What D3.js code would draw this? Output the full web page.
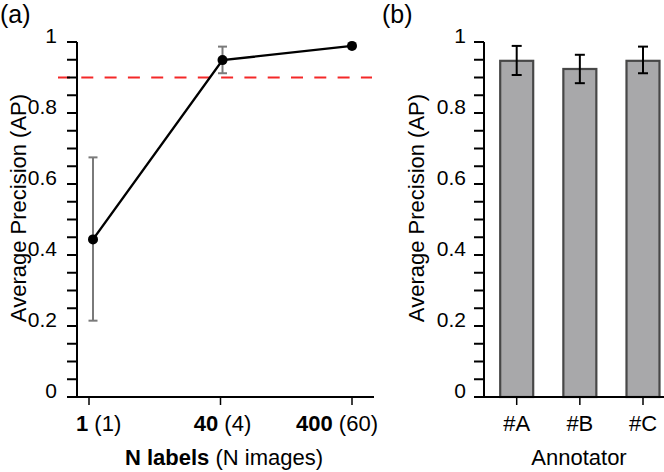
<!DOCTYPE html>
<html>
<head>
<meta charset="utf-8">
<script src="https://cdn.jsdelivr.net/npm/d3@7"></script>
<style>
  html, body { margin: 0; padding: 0; background: #fff; }
  svg { display: block; font-family: "Liberation Sans", Arial, sans-serif; }
</style>
</head>
<body>
<svg id="chart" width="664" height="472"></svg>
<script>
// ---------- data ----------
const nLabels = ["1", "40", "400"];
const nImages = ["(1)", "(4)", "(60)"];
const apMean = [0.444, 0.949, 0.989];
const apLow = [0.215, 0.912, null];
const apHigh = [0.675, 0.987, null];
const threshold = 0.9;

const annotators = ["#A", "#B", "#C"];
const annotMean = [0.947, 0.924, 0.947];
const annotLow = [0.907, 0.884, 0.912];
const annotHigh = [0.989, 0.964, 0.987];

const yTicks = d3.range(0, 21).map(i => i * 0.05);
const yLabelTicks = [0, 0.2, 0.4, 0.6, 0.8, 1];

// ---------- setup ----------
const svg = d3.select("#chart");
const y = d3.scaleLinear().domain([0, 1]).range([397, 42]);
const fmt = v => (Math.abs(v - 1) < 1e-9 ? "1" : Math.abs(v) < 1e-9 ? "0" : d3.format(".1f")(v));

function yAxis(g, x0, labelX) {
  g.append("line").attr("x1", x0).attr("x2", x0).attr("y1", y(1)).attr("y2", y(0))
    .attr("stroke", "#000").attr("stroke-width", 2);
  g.selectAll("line.tk").data(yTicks).join("line").attr("class", "tk")
    .attr("x1", x0 - 10).attr("x2", x0).attr("y1", d => y(d)).attr("y2", d => y(d))
    .attr("stroke", "#000").attr("stroke-width", 2);
  g.selectAll("text.tl").data(yLabelTicks).join("text").attr("class", "tl")
    .attr("x", labelX).attr("y", d => y(d) + 0.5)
    .attr("text-anchor", "end").attr("font-size", 21).attr("fill", "#000")
    .text(fmt);
}

// ================= Panel (a) =================
const ga = svg.append("g");
const xa = d3.scalePoint().domain(nLabels).range([89, 352]);
const x0a = 77;

// threshold dashed line
ga.append("line").attr("x1", 58).attr("x2", 372)
  .attr("y1", y(threshold)).attr("y2", y(threshold))
  .attr("stroke", "#f42828").attr("stroke-width", 2.2).attr("stroke-dasharray", "12,11.3");

yAxis(ga, x0a, 57);

// x axis
ga.append("line").attr("x1", 67).attr("x2", 374).attr("y1", y(0)).attr("y2", y(0))
  .attr("stroke", "#000").attr("stroke-width", 2);
ga.selectAll("line.xt").data(nLabels).join("line").attr("class", "xt")
  .attr("x1", d => xa(d)).attr("x2", d => xa(d)).attr("y1", y(0)).attr("y2", y(0) + 8)
  .attr("stroke", "#000").attr("stroke-width", 1.5);

const xtl = ga.selectAll("text.xl").data(nLabels).join("text").attr("class", "xl")
  .attr("y", 431).attr("font-size", 22).attr("fill", "#000")
  .attr("x", (d, i) => i === 0 ? x0a - 1 : i === nLabels.length - 1 ? 378 : xa(d) + 2)
  .attr("text-anchor", (d, i) => i === 0 ? "start" : i === nLabels.length - 1 ? "end" : "middle");
xtl.append("tspan").attr("font-weight", "bold").text(d => d);
xtl.append("tspan").text((d, i) => " " + nImages[i]);

// error bars (gray)
apMean.forEach((m, i) => {
  if (apLow[i] == null) return;
  const cx = xa(nLabels[i]) + (i === 0 ? 4 : 2);
  const eg = ga.append("g").attr("stroke", "#7a7a7a").attr("stroke-width", 2);
  eg.append("line").attr("x1", cx).attr("x2", cx).attr("y1", y(apLow[i])).attr("y2", y(apHigh[i]));
  eg.append("line").attr("x1", cx - 4.5).attr("x2", cx + 4.5).attr("y1", y(apLow[i])).attr("y2", y(apLow[i]));
  eg.append("line").attr("x1", cx - 4.5).attr("x2", cx + 4.5).attr("y1", y(apHigh[i])).attr("y2", y(apHigh[i]));
});

const pts = apMean.map((m, i) => [xa(nLabels[i]) + (i === 0 ? 4 : i === 1 ? 2 : 0), y(m)]);
ga.append("path").attr("d", d3.line()(pts)).attr("fill", "none")
  .attr("stroke", "#000").attr("stroke-width", 2.4);
ga.selectAll("circle").data(pts).join("circle")
  .attr("cx", d => d[0]).attr("cy", d => d[1]).attr("r", 5).attr("fill", "#000");

ga.append("text")
  .attr("font-size", 22).attr("text-anchor", "middle").attr("fill", "#000")
  .attr("transform", "translate(26,208) rotate(-90)")
  .text("Average Precision (AP)");

const xt = ga.append("text").attr("x", 224).attr("y", 465)
  .attr("text-anchor", "middle").attr("font-size", 22).attr("fill", "#000");
xt.append("tspan").attr("font-weight", "bold").text("N labels");
xt.append("tspan").text(" (N images)");

ga.append("text").attr("x", 0).attr("y", 23).attr("font-size", 25).attr("fill", "#000").text("(a)");

// ================= Panel (b) =================
const gb = svg.append("g");
const x0b = 484;
const xb = d3.scalePoint().domain(annotators).range([516.7, 643]);
const barW = 33;

yAxis(gb, x0b, 466);

gb.selectAll("rect.bar").data(annotMean).join("rect").attr("class", "bar")
  .attr("x", (d, i) => xb(annotators[i]) - barW / 2)
  .attr("width", barW)
  .attr("y", d => y(d))
  .attr("height", d => y(0) - y(d))
  .attr("fill", "#a8a8aa").attr("stroke", "#474747").attr("stroke-width", 2.2);

gb.append("line").attr("x1", 475).attr("x2", 664).attr("y1", y(0)).attr("y2", y(0))
  .attr("stroke", "#000").attr("stroke-width", 2);
gb.selectAll("line.xt").data(annotators).join("line").attr("class", "xt")
  .attr("x1", d => xb(d)).attr("x2", d => xb(d)).attr("y1", y(0)).attr("y2", y(0) + 8)
  .attr("stroke", "#000").attr("stroke-width", 1.5);
gb.selectAll("text.xl").data(annotators).join("text").attr("class", "xl")
  .attr("x", d => xb(d)).attr("y", 431).attr("text-anchor", "middle")
  .attr("font-size", 22).attr("fill", "#000").text(d => d);

annotMean.forEach((m, i) => {
  const cx = xb(annotators[i]);
  const eg = gb.append("g").attr("stroke", "#000").attr("stroke-width", 2);
  eg.append("line").attr("x1", cx).attr("x2", cx).attr("y1", y(annotLow[i])).attr("y2", y(annotHigh[i]));
  eg.append("line").attr("x1", cx - 5).attr("x2", cx + 5).attr("y1", y(annotLow[i])).attr("y2", y(annotLow[i]));
  eg.append("line").attr("x1", cx - 5).attr("x2", cx + 5).attr("y1", y(annotHigh[i])).attr("y2", y(annotHigh[i]));
});

gb.append("text").attr("font-size", 22).attr("text-anchor", "middle").attr("fill", "#000")
  .attr("transform", "translate(424,208) rotate(-90)")
  .text("Average Precision (AP)");

gb.append("text").attr("x", 579).attr("y", 465).attr("text-anchor", "middle")
  .attr("font-size", 22).attr("fill", "#000").text("Annotator");

gb.append("text").attr("x", 382).attr("y", 23).attr("font-size", 25).attr("fill", "#000").text("(b)");
</script>
</body>
</html>
